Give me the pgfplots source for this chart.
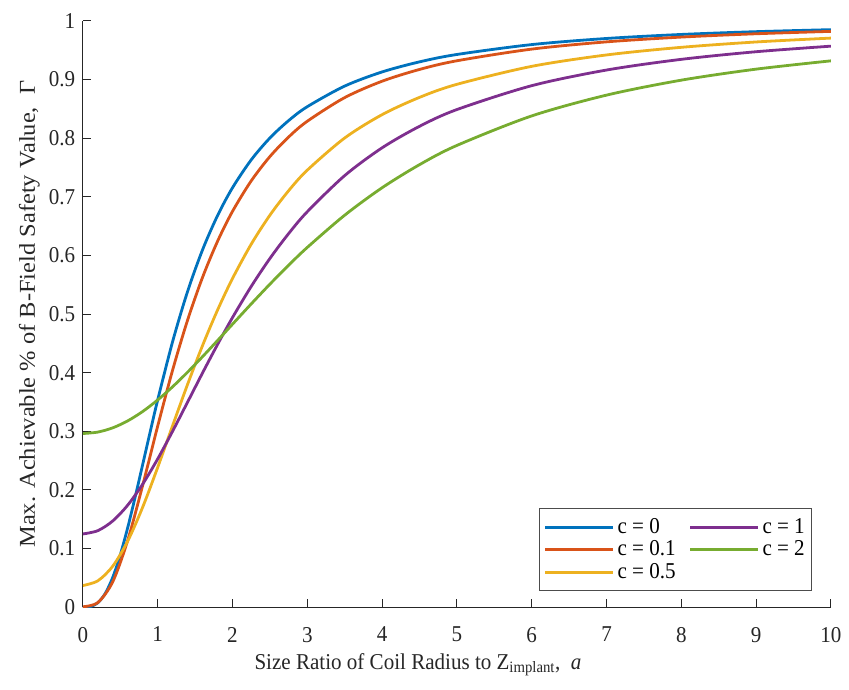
\documentclass[border=0pt]{standalone}
\usepackage{fontspec}
\setmainfont[FakeStretch=0.93]{Liberation Serif}
\newfontfamily\ylabfont[FakeStretch=1.08]{Liberation Serif}
\usepackage{pgfplots}
\pgfplotsset{compat=1.18}
\definecolor{mb}{rgb}{0,0.447,0.741}
\definecolor{mo}{rgb}{0.85,0.325,0.098}
\definecolor{my}{rgb}{0.929,0.694,0.125}
\definecolor{mp}{rgb}{0.494,0.184,0.556}
\definecolor{mg}{rgb}{0.466,0.674,0.188}
\begin{document}
\fontsize{17}{20}\selectfont
\begin{tikzpicture}
\begin{axis}[
  scale only axis, width=561.75pt, height=440.25pt,
  xmin=0, xmax=10, ymin=0, ymax=1,
  axis x line*=bottom, axis y line*=left,
  axis line style={black!85, line width=0.75pt},
  tick style={black!85, line width=0.75pt},
  tick align=inside, major tick length=6pt,
  xtick={0,1,...,10}, ytick={0,0.1,...,1},
  /pgf/number format/assume math mode=true,
  yticklabel style={/pgf/number format/fixed},
  ticklabel style={font=\fontsize{17}{20}\selectfont, text=black!85},
  xticklabel style={yshift=-9pt},
  xlabel={Size Ratio of Coil Radius to Z\textsubscript{implant}, \ \textit{a}},
  xlabel style={at={(axis description cs:0.219,0)}, anchor=base west, yshift=-46.5pt, font=\fontsize{17}{20}\selectfont, text=black!85},
  ylabel={Max. Achievable \% of B-Field Safety Value, \ Γ},
  ylabel style={at={(axis description cs:-0.0641,0.5)}, anchor=base, font=\ylabfont\fontsize{17}{20}\selectfont, text=black!85},
  legend columns=3, transpose legend,
  legend style={at={(0.9746,0.0273)}, anchor=south east, draw=black!70, line width=0.75pt,
    font=\fontsize{17}{20}\selectfont, row sep=-1pt, inner ysep=5pt, inner xsep=3pt,
    /tikz/every even column/.append style={column sep=8pt}},
  legend cell align=left,
  legend image code/.code={\draw[#1, line width=2.25pt] (0pt,0pt) -- (51pt,0pt);},
  every axis plot/.append style={line width=2.1pt, smooth},
]
\addplot[mb] coordinates {(0,0) (0.1,0.000985) (0.2,0.00754) (0.3,0.02373) (0.4,0.05123) (0.5,0.08944) (0.6,0.13619) (0.7,0.18859) (0.8,0.24379) (0.9,0.29937) (1.0,0.35355) (1.2,0.45337) (1.4,0.53882) (1.6,0.60980) (1.8,0.66799) (2.0,0.71554) (2.25,0.76308) (2.5,0.80041) (2.75,0.83004) (3,0.85381) (3.5,0.88895) (4,0.91308) (4.5,0.93025) (5,0.94286) (6,0.95973) (7,0.97015) (8,0.97701) (9,0.98176) (10,0.98519)};
\addlegendentry{c = 0}
\addplot[mo] coordinates {(0,0.000751) (0.2,0.008) (0.4,0.04371) (0.6,0.11441) (0.8,0.20826) (1.0,0.30895) (1.2,0.40475) (1.4,0.48990) (1.6,0.56285) (1.8,0.62415) (2.0,0.67524) (2.25,0.72723) (2.5,0.76869) (2.75,0.80200) (3,0.82899) (3.5,0.86931) (4,0.89726) (4.5,0.91731) (5,0.93212) (6,0.95201) (7,0.96437) (8,0.97253) (9,0.97819) (10,0.98226)};
\addlegendentry{c = 0.1}
\addplot[my] coordinates {(0,0.03704) (0.2,0.04507) (0.4,0.07017) (0.6,0.11299) (0.8,0.17090) (1.0,0.23853) (1.2,0.30994) (1.4,0.38034) (1.6,0.44652) (1.8,0.50685) (2.0,0.56074) (2.25,0.61923) (2.5,0.66872) (2.75,0.71042) (3,0.74556) (3.5,0.80041) (4,0.84021) (4.5,0.86967) (5,0.89195) (6,0.92260) (7,0.94205) (8,0.95506) (9,0.96419) (10,0.97080)};
\addlegendentry{c = 0.5}
\addplot[mp] coordinates {(0,0.125) (0.2,0.13061) (0.4,0.14725) (0.6,0.17421) (0.8,0.21013) (1.0,0.25298) (1.2,0.30039) (1.4,0.34999) (1.6,0.39978) (1.8,0.44817) (2.0,0.49411) (2.25,0.54715) (2.5,0.59487) (2.75,0.63727) (3,0.67466) (3.5,0.73628) (4,0.78366) (4.5,0.82030) (5,0.84891) (6,0.88964) (7,0.91631) (8,0.93456) (9,0.94754) (10,0.95704)};
\addlegendentry{c = 1}
\addplot[mg] coordinates {(0,0.29630) (0.2,0.29876) (0.4,0.30605) (0.6,0.31792) (0.8,0.33394) (1.0,0.35355) (1.2,0.37614) (1.4,0.40101) (1.6,0.42748) (1.8,0.45492) (2.0,0.48274) (2.25,0.51734) (2.5,0.55104) (2.75,0.58329) (3,0.61377) (3.5,0.66872) (4,0.71554) (4.5,0.75489) (5,0.78773) (6,0.83805) (7,0.87351) (8,0.89905) (9,0.91784) (10,0.93199)};
\addlegendentry{c = 2}
\end{axis}
\path ([shift={(-62.25pt,-61.5pt)}]current axis.south west) rectangle ([shift={(12.75pt,15.75pt)}]current axis.north east);
\end{tikzpicture}
\end{document}
